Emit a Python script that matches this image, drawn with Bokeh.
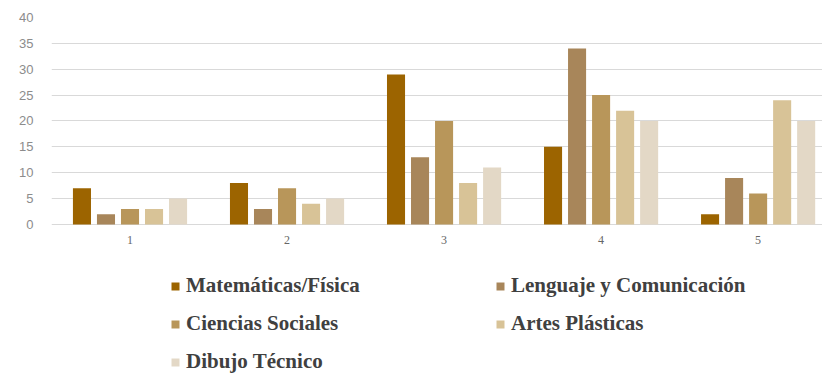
from bokeh.plotting import figure
from bokeh.models import ColumnDataSource, Legend, LegendItem, FixedTicker, Range1d
from bokeh.core.properties import value
from bokeh.embed import file_html
from bokeh.resources import INLINE

categories = [1, 2, 3, 4, 5]
category_labels = ["1", "2", "3", "4", "5"]
series_names = ["Matemáticas/Física", "Lenguaje y Comunicación", "Ciencias Sociales",
                "Artes Plásticas", "Dibujo Técnico"]
matematicas = [7, 8, 29, 15, 2]
lenguaje = [2, 3, 13, 34, 9]
ciencias = [3, 7, 20, 25, 6]
artes = [3, 4, 8, 22, 24]
dibujo = [5, 5, 11, 20, 20]
series_values = [matematicas, lenguaje, ciencias, artes, dibujo]
colors = ["#9C6400", "#A8865A", "#B8965A", "#D8C397", "#E3D8C6"]
y_ticks = [0, 5, 10, 15, 20, 25, 30, 35, 40]

p = figure(width=822, height=374, output_backend="svg", toolbar_location=None,
           x_range=Range1d(0.5, 5.41), y_range=Range1d(-28.99, 40),
           x_axis_location=None,
           min_border_left=51, min_border_right=0, min_border_top=17, min_border_bottom=0)
p.outline_line_color = None
p.background_fill_color = "white"
p.border_fill_color = "white"

step = 0.153
width = 0.115
items = []
for i, (name, vals, col) in enumerate(zip(series_names, series_values, colors)):
    xs = [c + (i - 2) * step for c in categories]
    src = ColumnDataSource(dict(x=xs, top=vals))
    r = p.vbar(x="x", top="top", bottom=0, width=width, source=src,
               fill_color=col, line_color=None)
    items.append(LegendItem(label=name, renderers=[r]))

# category labels under the baseline
lab_src = ColumnDataSource(dict(x=categories, y=[0] * len(categories), t=category_labels))
p.text(x="x", y="y", text="t", source=lab_src, y_offset=16,
       text_font=value("Liberation Serif"), text_font_size="12px",
       text_color="#666666", text_align="center", text_baseline="middle")

p.xgrid.grid_line_color = None
p.ygrid.grid_line_color = "#D9D9D9"
p.ygrid.grid_line_width = 1
p.ygrid.ticker = FixedTicker(ticks=y_ticks)

p.yaxis.ticker = FixedTicker(ticks=y_ticks)
p.yaxis.axis_line_color = None
p.yaxis.major_tick_line_color = None
p.yaxis.minor_tick_line_color = None
p.yaxis.major_label_text_font = "Liberation Sans"
p.yaxis.major_label_text_font_size = "13px"
p.yaxis.major_label_text_color = "#8C8C8C"
p.yaxis.major_label_standoff = 12

legend = Legend(items=items, ncols=2, orientation="horizontal", location=(119, 0))
legend.label_text_font = "Liberation Serif"
legend.label_text_font_style = "bold"
legend.label_text_font_size = "21px"
legend.label_text_color = "#404040"
legend.glyph_width = 10
legend.glyph_height = 10
legend.label_standoff = 6
legend.label_height = 18
legend.label_width = 296
legend.spacing = 13
legend.padding = 0
legend.margin = 0
legend.border_line_color = None
legend.background_fill_alpha = 0
p.add_layout(legend, "center")

open("out.html", "w").write(file_html(p, INLINE))
